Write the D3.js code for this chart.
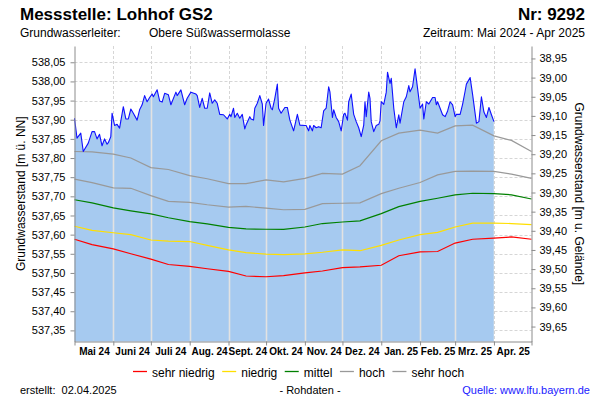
<!DOCTYPE html>
<html><head><meta charset="utf-8">
<script src="https://cdn.jsdelivr.net/npm/d3@7"></script>
<style>
body{margin:0;background:#fff}
svg{display:block;font-family:"Liberation Sans",Arial,sans-serif}
</style></head><body>
<svg id="chart" width="600" height="400"></svg>
<script>
// ---------- data ----------
const measuredDates = ["2024-05-01","2024-05-03","2024-05-06","2024-05-08","2024-05-12","2024-05-15","2024-05-17","2024-05-19","2024-05-21","2024-05-23","2024-05-25","2024-05-27","2024-05-28","2024-05-30","2024-05-31",
"2024-06-02","2024-06-04","2024-06-06","2024-06-09","2024-06-11","2024-06-13","2024-06-15","2024-06-17","2024-06-20","2024-06-22","2024-06-24","2024-06-26","2024-06-28","2024-06-30",
"2024-07-02","2024-07-03","2024-07-06","2024-07-08","2024-07-10","2024-07-12","2024-07-15","2024-07-17","2024-07-21","2024-07-22","2024-07-25","2024-07-28","2024-07-30",
"2024-08-02","2024-08-06","2024-08-07","2024-08-09","2024-08-11","2024-08-13","2024-08-15","2024-08-17","2024-08-19","2024-08-21","2024-08-23","2024-08-25","2024-08-28","2024-08-31",
"2024-09-02","2024-09-03","2024-09-05","2024-09-06","2024-09-08","2024-09-10","2024-09-12","2024-09-14","2024-09-15","2024-09-18","2024-09-19","2024-09-21","2024-09-22","2024-09-24","2024-09-26","2024-09-28","2024-09-29",
"2024-10-01","2024-10-03","2024-10-05","2024-10-06","2024-10-08","2024-10-10","2024-10-11","2024-10-13","2024-10-16","2024-10-18","2024-10-20","2024-10-23","2024-10-26","2024-10-28",
"2024-11-01","2024-11-02","2024-11-04","2024-11-05","2024-11-07","2024-11-08","2024-11-10","2024-11-12","2024-11-14","2024-11-16","2024-11-18","2024-11-20","2024-11-21","2024-11-23","2024-11-24","2024-11-26","2024-11-28","2024-11-30",
"2024-12-02","2024-12-03","2024-12-05","2024-12-06","2024-12-08","2024-12-10","2024-12-12","2024-12-14","2024-12-16","2024-12-18","2024-12-19","2024-12-20","2024-12-22","2024-12-23","2024-12-24","2024-12-26","2024-12-28","2024-12-30","2024-12-31",
"2025-01-01","2025-01-03","2025-01-05","2025-01-06","2025-01-08","2025-01-09","2025-01-11","2025-01-13","2025-01-15","2025-01-16","2025-01-19","2025-01-21","2025-01-23","2025-01-24","2025-01-26","2025-01-28","2025-01-30",
"2025-02-01","2025-02-03","2025-02-04","2025-02-06","2025-02-08","2025-02-11","2025-02-13","2025-02-14","2025-02-15","2025-02-17","2025-02-19","2025-02-21","2025-02-23","2025-02-25","2025-02-27",
"2025-03-01","2025-03-02","2025-03-05","2025-03-07","2025-03-09","2025-03-10","2025-03-13","2025-03-15","2025-03-18","2025-03-20","2025-03-22","2025-03-24","2025-03-26","2025-03-28","2025-03-30","2025-04-01"];
const measuredValues = [537.904,537.852,537.865,537.817,537.839,537.869,537.869,537.850,537.862,537.832,537.850,537.836,537.840,537.856,537.917,
537.885,537.888,537.878,537.934,537.902,537.902,537.928,537.917,537.899,537.926,537.939,537.963,537.947,537.958,
537.967,537.960,537.978,537.949,537.946,537.969,537.965,537.939,537.972,537.963,537.978,537.939,537.956,
537.972,537.967,537.963,537.932,537.956,537.930,537.930,537.970,537.943,537.952,537.943,537.914,537.913,537.902,
537.914,537.908,537.930,537.906,537.917,537.904,537.914,537.876,537.886,537.908,537.902,537.899,537.930,537.943,537.963,537.941,537.885,
537.943,537.954,537.930,537.926,537.956,537.993,537.930,537.917,537.932,537.932,537.899,537.871,537.914,537.886,
537.885,537.885,537.871,537.885,537.871,537.885,537.879,537.882,537.879,537.923,537.930,537.986,537.973,537.906,537.926,537.906,537.895,537.871,
537.914,537.917,537.899,537.947,537.967,537.914,537.895,537.879,537.856,537.886,537.947,537.908,537.972,537.956,537.895,537.869,537.885,537.888,537.897,
537.947,537.940,537.972,538.024,537.995,538.008,537.930,537.879,537.913,537.891,537.947,537.960,537.989,537.973,537.986,538.033,537.982,
537.930,537.941,537.902,537.947,537.941,537.958,537.958,537.939,537.947,537.930,537.913,537.908,537.923,537.947,537.939,
537.908,537.914,537.914,537.941,537.975,537.993,538.010,537.965,537.891,537.895,537.960,537.920,537.906,537.932,537.913,537.895];

const statDates = ["2024-05-01","2024-05-15","2024-06-01","2024-06-15","2024-07-01","2024-07-15","2024-08-01","2024-08-15","2024-09-01","2024-09-15","2024-10-01","2024-10-15","2024-11-01","2024-11-15","2024-12-01","2024-12-15","2025-01-01","2025-01-15","2025-02-01","2025-02-15","2025-03-01","2025-03-15","2025-04-01","2025-04-15","2025-05-01"];
const sehrNiedrig = [537.588,537.574,537.563,537.550,537.536,537.522,537.517,537.511,537.504,537.492,537.490,537.493,537.500,537.505,537.514,537.516,537.520,537.545,537.555,537.556,537.578,537.588,537.591,537.594,537.588];
const niedrig     = [537.622,537.611,537.605,537.600,537.586,537.583,537.582,537.572,537.560,537.553,537.549,537.548,537.550,537.554,537.560,537.558,537.572,537.586,537.600,537.606,537.620,537.630,537.630,537.629,537.626];
const mittel      = [537.691,537.683,537.670,537.662,537.654,537.644,537.634,537.628,537.619,537.615,537.614,537.614,537.620,537.629,537.633,537.636,537.655,537.673,537.687,537.695,537.704,537.708,537.707,537.704,537.693];
const hoch        = [537.745,537.736,537.722,537.721,537.702,537.687,537.684,537.678,537.672,537.674,537.669,537.665,537.666,537.681,537.682,537.683,537.707,537.721,537.736,537.756,537.765,537.766,537.765,537.758,537.747];
const sehrHoch    = [537.817,537.816,537.810,537.800,537.775,537.770,537.754,537.746,537.733,537.733,537.743,537.738,537.747,537.760,537.758,537.780,537.845,537.865,537.873,537.865,537.884,537.886,537.858,537.846,537.817];

const monthStarts = ["2024-05-01","2024-06-01","2024-07-01","2024-08-01","2024-09-01","2024-10-01","2024-11-01","2024-12-01","2025-01-01","2025-02-01","2025-03-01","2025-04-01","2025-05-01"];
const monthLabels = ["Mai 24","Juni 24","Juli 24","Aug. 24","Sept. 24","Okt. 24","Nov. 24","Dez. 24","Jan. 25","Feb. 25","Mrz. 25","Apr. 25"];
const leftTicks  = [537.35,537.40,537.45,537.50,537.55,537.60,537.65,537.70,537.75,537.80,537.85,537.90,537.95,538.00,538.05];
const rightTicks = [38.95,39.00,39.05,39.10,39.15,39.20,39.25,39.30,39.35,39.40,39.45,39.50,39.55,39.60,39.65];
const groundLevel = 577.01;
const seriesNames  = ["sehr niedrig","niedrig","mittel","hoch","sehr hoch"];
const seriesColors = ["#ff0000","#ffdf00","#008000","#999999","#999999"];

// ---------- setup ----------
const parse = d3.utcParse("%Y-%m-%d");
const svg = d3.select("#chart");
const L = 74.5, R = 531.5, T = 46, B = 341.5;
const yMin = 537.321, yMax = 538.0925;

const x = d3.scaleUtc().domain([parse("2024-05-01"), parse("2025-05-01")]).range([L, R]);
const y = d3.scaleLinear().domain([yMin, yMax]).range([B, T]);
const yr = d3.scaleLinear().domain([groundLevel - yMin, groundLevel - yMax]).range([B, T]);
const comma = v => v.toFixed(2).replace(".", ",");

const measured = measuredDates.map((d, i) => ({date: parse(d), v: measuredValues[i]}));
const statSeries = [sehrNiedrig, niedrig, mittel, hoch, sehrHoch].map(arr =>
  statDates.map((d, i) => ({date: parse(d), v: arr[i]})));
const monthDates = monthStarts.map(parse);

// ---------- grid ----------
const grid = svg.append("g").attr("stroke", "#d6d6d6").attr("stroke-dasharray", "3,2").attr("stroke-width", 1);
grid.selectAll("line.h").data(leftTicks).join("line")
  .attr("x1", L).attr("x2", R)
  .attr("y1", d => Math.round(y(d)) + 0.5).attr("y2", d => Math.round(y(d)) + 0.5);
grid.selectAll("line.v").data(monthDates.slice(1, -1)).join("line")
  .attr("x1", d => Math.round(x(d)) + 0.5).attr("x2", d => Math.round(x(d)) + 0.5)
  .attr("y1", T).attr("y2", B);

// ---------- area ----------
const area = d3.area().x(d => x(d.date)).y0(B).y1(d => y(d.v));
svg.append("clipPath").attr("id", "areaClip").append("path").attr("d", area(measured));
svg.append("path").attr("d", area(measured)).attr("fill", "#a6caf0");
svg.append("g").attr("clip-path", "url(#areaClip)")
  .selectAll("line").data(monthDates.slice(1, -1)).join("line")
  .attr("x1", d => Math.round(x(d)) + 0.5).attr("x2", d => Math.round(x(d)) + 0.5)
  .attr("y1", T).attr("y2", B)
  .attr("stroke", "#e2e2e2").attr("stroke-width", 1.6);

// ---------- stat lines ----------
const line = d3.line().x(d => x(d.date)).y(d => y(d.v));
svg.append("g").selectAll("path").data(statSeries).join("path")
  .attr("d", line).attr("fill", "none")
  .attr("stroke", (d, i) => seriesColors[i]).attr("stroke-width", 1.2);

// ---------- measured line ----------
svg.append("path").attr("d", line(measured)).attr("fill", "none")
  .attr("stroke", "#1010ff").attr("stroke-width", 1.1).attr("stroke-linejoin", "round");

// ---------- axes ----------
function styleAxis(g) {
  g.select(".domain").attr("stroke", "#8c8c8c");
  g.selectAll(".tick line").attr("stroke", "#8c8c8c");
  g.selectAll(".tick text").attr("fill", "#000").attr("font-family", '"Liberation Sans",Arial,sans-serif');
}
svg.append("g").attr("transform", `translate(${L},0)`)
  .call(d3.axisLeft(y).tickValues(leftTicks).tickSize(4).tickSizeOuter(0).tickPadding(5).tickFormat(comma))
  .call(styleAxis).selectAll("text").attr("font-size", 11);
svg.append("g").attr("transform", `translate(${R},0)`)
  .call(d3.axisRight(yr).tickValues(rightTicks).tickSize(4).tickSizeOuter(0).tickPadding(4).tickFormat(comma))
  .call(styleAxis).selectAll("text").attr("font-size", 11);
svg.append("g").attr("transform", `translate(0,${B})`)
  .call(d3.axisBottom(x).tickValues(monthDates).tickSize(4).tickSizeOuter(0).tickFormat(""))
  .call(styleAxis);
const mids = monthDates.slice(0, -1).map((d, i) => new Date((+d + +monthDates[i + 1]) / 2));
const lab = svg.append("g").attr("transform", `translate(0,${B})`)
  .call(d3.axisBottom(x).tickValues(mids).tickSize(0).tickFormat((d, i) => monthLabels[i]));
lab.select(".domain").remove();
lab.selectAll("text").attr("y", 13.5).attr("dy", 0).attr("font-size", 10).attr("font-weight", "bold")
  .attr("fill", "#000").attr("font-family", '"Liberation Sans",Arial,sans-serif');

// ---------- axis titles ----------
svg.append("text").attr("transform", `translate(25,${(T + B) / 2}) rotate(-90)`)
  .attr("text-anchor", "middle").attr("font-size", 12).text("Grundwasserstand [m ü. NN]");
svg.append("text").attr("transform", `translate(575,${(T + B) / 2}) rotate(90)`)
  .attr("text-anchor", "middle").attr("font-size", 12).text("Grundwasserstand [m u. Gelände]");

// ---------- titles ----------
svg.append("text").attr("x", 20).attr("y", 20).attr("font-size", 17).attr("font-weight", "bold").text("Messstelle: Lohhof GS2");
svg.append("text").attr("x", 585).attr("y", 20).attr("text-anchor", "end").attr("font-size", 17).attr("font-weight", "bold").text("Nr: 9292");
const sub = svg.append("text").attr("y", 37).attr("font-size", 12);
sub.append("tspan").attr("x", 20).text("Grundwasserleiter:");
sub.append("tspan").attr("x", 149).text("Obere Süßwassermolasse");
svg.append("text").attr("x", 585).attr("y", 37).attr("text-anchor", "end").attr("font-size", 12).text("Zeitraum: Mai 2024 - Apr 2025");

// ---------- legend ----------
const leg = svg.append("g");
let lx = 0;
seriesNames.forEach((name, i) => {
  leg.append("line").attr("x1", lx).attr("x2", lx + 14).attr("y1", 371.5).attr("y2", 371.5)
    .attr("stroke", seriesColors[i]).attr("stroke-width", 1.3);
  const t = leg.append("text").attr("x", lx + 19).attr("y", 377).attr("font-size", 12).text(name);
  lx += 19 + t.node().getComputedTextLength() + 7.5;
});
leg.attr("transform", `translate(${Math.round(299 - (lx - 7.5) / 2)},0)`);

// ---------- footer ----------
svg.append("text").attr("x", 20).attr("y", 394).attr("font-size", 11).style("white-space", "pre").text("erstellt:  02.04.2025");
svg.append("text").attr("x", 310).attr("y", 394).attr("text-anchor", "middle").attr("font-size", 11).text("- Rohdaten -");
svg.append("text").attr("x", 590).attr("y", 394).attr("text-anchor", "end").attr("font-size", 11).attr("fill", "#1a1aff").text("Quelle: www.lfu.bayern.de");
</script>
</body></html>
